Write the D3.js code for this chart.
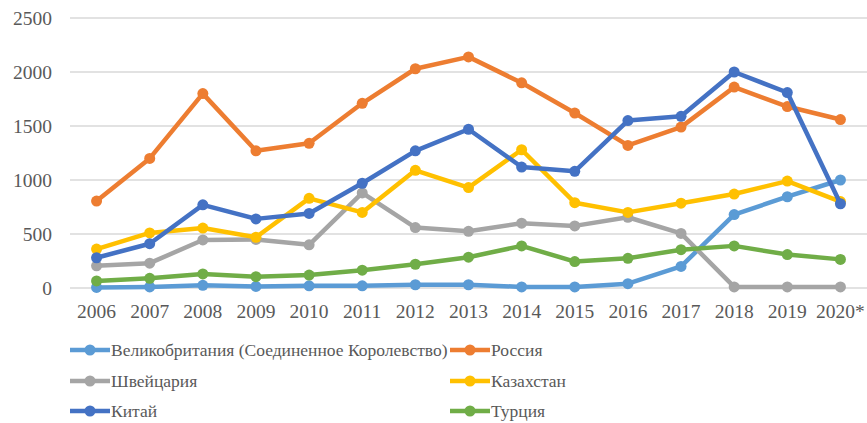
<!DOCTYPE html>
<html lang="ru">
<head>
  <meta charset="UTF-8">
  <title>Line chart</title>
  <script src="https://d3js.org/d3.v7.min.js"></script>
  <style>
    body {
      margin: 0;
      padding: 0;
      background: #fff;
    }
    svg {
      display: block;
    }
    .grid line {
      stroke: #d9d9d9;
      stroke-width: 1.5;
    }
  </style>
</head>
<body>
  <script>
    const years = ["2006", "2007", "2008", "2009", "2010", "2011", "2012", "2013",
                   "2014", "2015", "2016", "2017", "2018", "2019", "2020*"];
    const yTicks = [0, 500, 1000, 1500, 2000, 2500];

    const seriesNames = [
      "Великобритания (Соединенное Королевство)",
      "Россия",
      "Швейцария",
      "Казахстан",
      "Китай",
      "Турция"
    ];
    const seriesColors = ["#5B9BD5", "#ED7D31", "#A5A5A5", "#FFC000", "#4472C4", "#70AD47"];

    const uk          = [5, 10, 25, 15, 20, 20, 30, 30, 10, 10, 40, 200, 680, 845, 1000];
    const russia      = [805, 1200, 1800, 1270, 1340, 1710, 2030, 2140, 1900, 1620, 1320, 1490, 1860, 1680, 1560];
    const switzerland = [205, 230, 445, 450, 400, 880, 560, 525, 600, 575, 655, 505, 10, 10, 10];
    const kazakhstan  = [360, 510, 555, 470, 830, 700, 1090, 930, 1280, 790, 700, 785, 870, 990, 800];
    const china       = [280, 410, 770, 640, 690, 970, 1270, 1470, 1120, 1080, 1550, 1590, 2000, 1810, 780];
    const turkey      = [65, 90, 130, 105, 120, 165, 220, 285, 390, 245, 275, 355, 390, 310, 265];

    const seriesValues = [uk, russia, switzerland, kazakhstan, china, turkey];

    const width = 867;
    const height = 423;
    const plot = { left: 70, right: 867, top: 18, bottom: 288 };
    const serif = "'Liberation Serif', 'Times New Roman', Tinos, 'DejaVu Serif', serif";

    const svg = d3.select("body")
      .append("svg")
      .attr("width", width)
      .attr("height", height)
      .attr("font-family", serif);

    const x = d3.scalePoint()
      .domain(years)
      .range([plot.left, plot.right])
      .padding(0.5);

    const y = d3.scaleLinear()
      .domain([0, 2500])
      .range([plot.bottom, plot.top]);

    // horizontal gridlines
    svg.append("g")
      .attr("class", "grid")
      .selectAll("line")
      .data(yTicks)
      .join("line")
      .attr("x1", plot.left)
      .attr("x2", plot.right)
      .attr("y1", d => y(d))
      .attr("y2", d => y(d));

    // y axis labels
    svg.append("g")
      .selectAll("text")
      .data(yTicks)
      .join("text")
      .attr("font-family", serif)
      .attr("font-size", 19.5)
      .attr("fill", "#595959")
      .attr("x", 52)
      .attr("y", d => y(d))
      .attr("dy", "0.35em")
      .attr("text-anchor", "end")
      .text(d => d);

    // x axis labels
    svg.append("g")
      .selectAll("text")
      .data(years)
      .join("text")
      .attr("font-family", serif)
      .attr("font-size", 19.5)
      .attr("fill", "#595959")
      .attr("x", d => x(d))
      .attr("y", 318)
      .attr("text-anchor", "middle")
      .text(d => d);

    const series = seriesNames.map((name, i) => ({
      name,
      color: seriesColors[i],
      points: years.map((yr, j) => ({ year: yr, value: seriesValues[i][j] }))
    }));

    const line = d3.line()
      .x(d => x(d.year))
      .y(d => y(d.value));

    const seriesGroup = svg.append("g")
      .selectAll("g")
      .data(series)
      .join("g");

    seriesGroup.append("path")
      .attr("d", d => line(d.points))
      .attr("fill", "none")
      .attr("stroke", d => d.color)
      .attr("stroke-width", 4.5)
      .attr("stroke-linejoin", "round");

    seriesGroup.selectAll("circle")
      .data(d => d.points.map(p => ({ ...p, color: d.color })))
      .join("circle")
      .attr("cx", d => x(d.year))
      .attr("cy", d => y(d.value))
      .attr("r", 5.5)
      .attr("fill", d => d.color);

    // legend: two columns, three rows
    const legendCols = [70, 450];
    const legendRows = [350, 381, 411];

    const legend = svg.append("g")
      .selectAll("g")
      .data(series)
      .join("g")
      .attr("transform", (d, i) => `translate(${legendCols[i % 2]},${legendRows[Math.floor(i / 2)]})`);

    legend.append("line")
      .attr("x1", 0)
      .attr("x2", 40)
      .attr("stroke", d => d.color)
      .attr("stroke-width", 4.5);

    legend.append("circle")
      .attr("cx", 20)
      .attr("r", 5.5)
      .attr("fill", d => d.color);

    legend.append("text")
      .attr("font-family", serif)
      .attr("font-size", 17.5)
      .attr("fill", "#595959")
      .attr("x", 41)
      .attr("dy", "0.35em")
      .text(d => d.name);
  </script>
</body>
</html>
